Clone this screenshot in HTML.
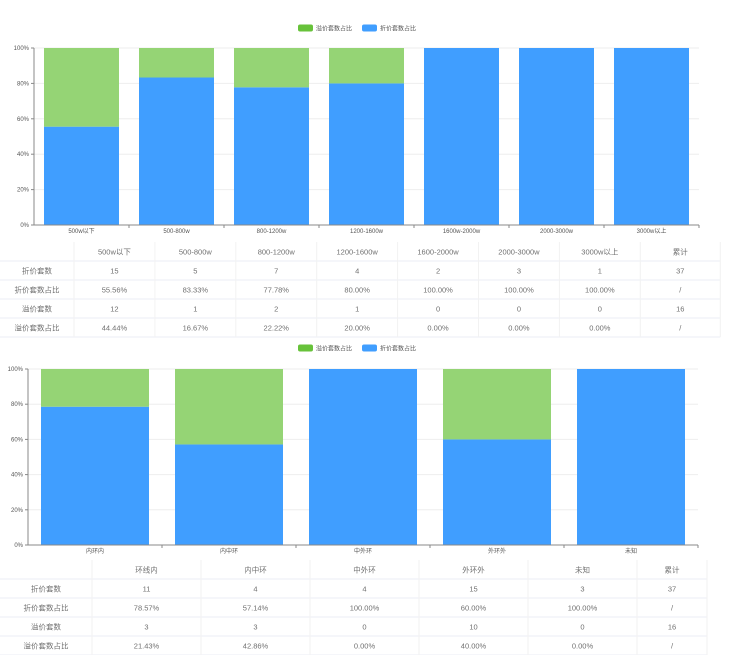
<!DOCTYPE html>
<html><head><meta charset="utf-8">
<style>
body{margin:0;background:#fff;width:737px;height:655px;overflow:hidden;font-family:"Liberation Sans","Noto Sans CJK SC",sans-serif;}
svg{position:absolute;left:0;top:0}
.tb text{font-size:7.5px;fill:#707070;text-anchor:middle}
.ax{font-size:6px;fill:#555}
</style></head><body>
<svg id="s" width="737" height="655" xmlns="http://www.w3.org/2000/svg"></svg>
<script>
const cats1=["500w以下","500-800w","800-1200w","1200-1600w","1600w-2000w","2000-3000w","3000w以上"];
const disc1=[55.56,83.33,77.78,80,100,100,100];
const prem1=[44.44,16.67,22.22,20,0,0,0];
const hdr1=["500w以下","500-800w","800-1200w","1200-1600w","1600-2000w","2000-3000w","3000w以上","累计"];
const rowsLbl1=["折价套数","折价套数占比","溢价套数","溢价套数占比"];
const rows1=[["15","5","7","4","2","3","1","37"],["55.56%","83.33%","77.78%","80.00%","100.00%","100.00%","100.00%","/"],["12","1","2","1","0","0","0","16"],["44.44%","16.67%","22.22%","20.00%","0.00%","0.00%","0.00%","/"]];
const cats2=["内环内","内中环","中外环","外环外","未知"];
const disc2=[78.57,57.14,100,60,100];
const prem2=[21.43,42.86,0,40,0];
const hdr2=["环线内","内中环","中外环","外环外","未知","累计"];
const rows2=[["11","4","4","15","3","37"],["78.57%","57.14%","100.00%","60.00%","100.00%","/"],["3","3","0","10","0","16"],["21.43%","42.86%","0.00%","40.00%","0.00%","/"]];
const yTicks=[0,20,40,60,80,100];
const NS="http://www.w3.org/2000/svg";
const s=document.getElementById('s');
function mk(t,a,p,txt){const e=document.createElementNS(NS,t);for(const k in a)e.setAttribute(k,a[k]);if(txt!=null)e.textContent=txt;(p||s).appendChild(e);return e;}
function legend(y,name){
  const g=mk('g',{});
  mk('rect',{x:298,y:y-3.5,width:15,height:7,rx:2,fill:'#67c23a'},g);
  mk('text',{x:316,y:y+2.5,class:'ax'},g,'溢价套数占比');
  mk('rect',{x:362,y:y-3.5,width:15,height:7,rx:2,fill:'#409eff'},g);
  mk('text',{x:380,y:y+2.5,class:'ax'},g,'折价套数占比');
}
function chart(cats,disc,prem,L,R,T,B,pad,name){
  const g=mk('g',{});
  const yS=v=>B-(B-T)*v/100;const cw=(R-L)/cats.length;
  yTicks.forEach(t=>{const y=yS(t);
    if(t>0){const l=mk('line',{x1:L,x2:R,y1:y,y2:y,stroke:'#eee','stroke-width':1},g);}
    const tx=mk('text',{x:L-5,y:y+2,class:'ax','text-anchor':'end'},g,t+'%');
    mk('line',{x1:L-3,x2:L,y1:y,y2:y,stroke:'#888'},g);});
  cats.forEach((c,i)=>{const x=L+i*cw+pad,w=cw-2*pad;
    const b=mk('rect',{x:x,y:yS(disc[i]),width:w,height:B-yS(disc[i]),fill:'#409eff'},g);
    const p=mk('rect',{x:x,y:yS(disc[i]+prem[i]),width:w,height:yS(disc[i])-yS(disc[i]+prem[i]),fill:'#95d475'},g);
    const tx=mk('text',{x:L+i*cw+cw/2,y:B+8,class:'ax','text-anchor':'middle'},g,c);
    mk('line',{x1:L+(i+1)*cw,x2:L+(i+1)*cw,y1:B,y2:B+3,stroke:'#888'},g);});
  mk('line',{x1:L,x2:L,y1:T,y2:B,stroke:'#888'},g);
  mk('line',{x1:L,x2:R,y1:B,y2:B,stroke:'#888'},g);
}
function table(hdr,lbls,rows,x0,firstW,cw,lastW,y0,rh,name){
  const g=mk('g',{class:'tb'});
  const n=hdr.length;
  const colX=i=>x0+firstW+cw*i;
  const colW=i=>i===n-1?lastW:cw;
  const right=colX(n-1)+lastW;
  hdr.forEach((h,i)=>mk('text',{x:colX(i)+colW(i)/2,y:y0+rh/2+3,'font-size':'8px'},g,h));
  for(let r=0;r<=rows.length;r++){mk('line',{x1:x0,x2:right,y1:y0+rh*(r+1),y2:y0+rh*(r+1),stroke:'#ebeef5'},g);}
  for(let c=0;c<=n;c++){const x=c===n?right:colX(c);mk('line',{x1:x,x2:x,y1:y0,y2:y0+rh*(rows.length+1),stroke:'#f2f2f2'},g);}
  rows.forEach((row,r)=>{const y=y0+rh*(r+1)+rh/2+3;
    mk('text',{x:x0+firstW/2,y:y},g,lbls[r]);
    row.forEach((v,i)=>mk('text',{x:colX(i)+colW(i)/2,y:y},g,v));});
}
legend(28,'legend-top');
chart(cats1,disc1,prem1,34,699,48,225,10,'chart-price-range');
table(hdr1,rowsLbl1,rows1,0,74,80.9,80,242,19,'table-price-range');
legend(348,'legend-bottom');
chart(cats2,disc2,prem2,28,698,369,545,13,'chart-ring-road');
table(hdr2,rowsLbl1,rows2,0,92,109,70,560,19,'table-ring-road');
</script>
</body></html>
